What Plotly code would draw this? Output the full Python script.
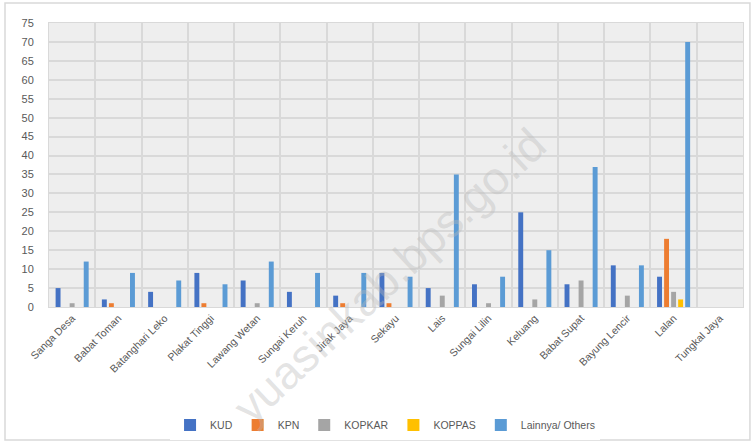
import plotly.graph_objects as go

categories = ["Sanga Desa", "Babat Toman", "Batanghari Leko", "Plakat Tinggi", "Lawang Wetan",
              "Sungai Keruh", "Jirak Jaya", "Sekayu", "Lais", "Sungai Lilin", "Keluang",
              "Babat Supat", "Bayung Lencir", "Lalan", "Tungkal Jaya"]
kud    = [5, 2, 4, 9, 7, 4, 3, 9, 5, 6, 25, 6, 11, 8, 0]
kpn    = [0, 1, 0, 1, 0, 0, 1, 1, 0, 0, 0, 0, 0, 18, 0]
kopkar = [1, 0, 0, 0, 1, 0, 0, 0, 3, 1, 2, 7, 3, 4, 0]
koppas = [0, 0, 0, 0, 0, 0, 0, 0, 0, 0, 0, 0, 0, 2, 0]
others = [12, 9, 7, 6, 12, 9, 9, 8, 35, 8, 15, 37, 11, 70, 0]

series = [
    ("KUD", kud, "#4472C4"),
    ("KPN", kpn, "#ED7D31"),
    ("KOPKAR", kopkar, "#A5A5A5"),
    ("KOPPAS", koppas, "#FFC000"),
    ("Lainnya/ Others", others, "#5B9BD5"),
]

fig = go.Figure()
for name, vals, color in series:
    fig.add_trace(go.Bar(x=categories, y=vals, name=name, marker_color=color,
                         marker_line_width=0))

fig.update_layout(
    width=755, height=446,
    margin=dict(l=49, r=12, t=23, b=139),
    paper_bgcolor="white",
    plot_bgcolor="#eeeeee",
    barmode="group",
    bargap=0.24,
    bargroupgap=0.3,
    font=dict(family="Liberation Sans, Arial, sans-serif", size=11, color="#595959"),
    showlegend=True,
    legend=dict(orientation="h", xref="container", yref="container",
                x=0.51, xanchor="center", y=0.047, yanchor="middle",
                font=dict(size=10.5, color="#595959"), traceorder="normal",
                itemwidth=30),
    xaxis=dict(tickangle=-45, showgrid=True, gridcolor="#d9d9d9", gridwidth=2,
               tickson="boundaries", ticks="", showline=True, linecolor="#d9d9d9",
               linewidth=1, mirror=True, automargin=False,
               tickfont=dict(size=10.5, color="#595959")),
    yaxis=dict(range=[0, 75], dtick=5, showgrid=True, gridcolor="#d9d9d9", gridwidth=2,
               zeroline=False, ticks="", showline=True, linecolor="#d9d9d9",
               linewidth=1, mirror=True, automargin=False, ticklabelstandoff=12,
               tickfont=dict(size=11, color="#595959")),
)

fig.add_shape(type="rect", xref="paper", yref="paper",
              x0=-0.0634, x1=1.01, y0=-0.468, y1=1.0704,
              line=dict(color="#d9d9d9", width=1.5), fillcolor="rgba(0,0,0,0)", layer="below")

fig.add_annotation(text="yuasinkab.bps.go.id", xref="paper", yref="paper",
                   x=0.49, y=0.11, xanchor="center", yanchor="middle",
                   showarrow=False, textangle=-43,
                   font=dict(size=46, color="rgba(185,185,185,0.4)",
                             family="Liberation Sans, Arial, sans-serif"))

fig.write_html("out.html", config={"displayModeBar": False},
               post_script="document.body.style.margin='0';document.body.style.overflow='hidden';")
